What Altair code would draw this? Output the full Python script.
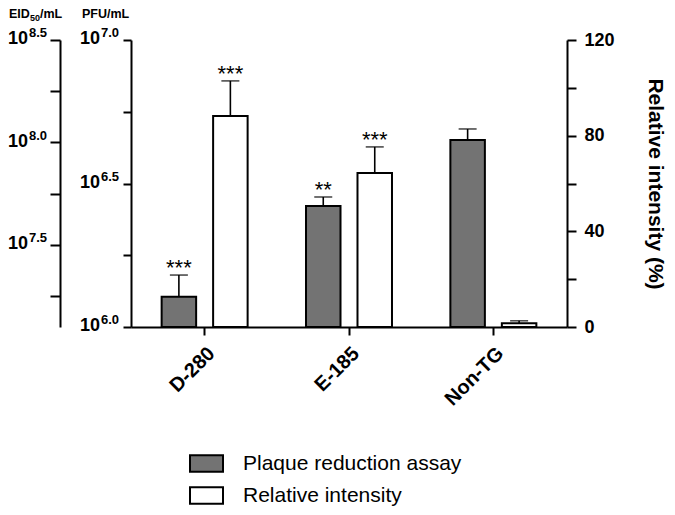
import altair as alt
import pandas as pd

FONT = "Liberation Sans"
GREY = "#737373"

categories = ["D-280", "E-185", "Non-TG"]
series_names = ["Plaque reduction assay", "Relative intensity"]

plaque_log_pfu = [6.105, 6.422, 6.652]
plaque_err_top = [6.181, 6.453, 6.690]
plaque_stars = ["***", "**", ""]

intensity = [88.2, 64.4, 1.6]
intensity_err_top = [102.9, 75.3, 2.6]
intensity_stars = ["***", "***", ""]

pfu_domain = [6.0, 7.0]
pfu_label_values = [6.0, 6.5, 7.0]
pfu_label_exps = ["6.0", "6.5", "7.0"]
pfu_tick_values = [6.0, 6.25, 6.5, 6.75, 7.0]

eid_domain = [7.1, 8.5]
eid_label_values = [7.5, 8.0, 8.5]
eid_label_exps = ["7.5", "8.0", "8.5"]
eid_tick_values = [7.25, 7.5, 7.75, 8.0, 8.25, 8.5]

intensity_domain = [0, 120]
intensity_ticks = [0, 20, 40, 60, 80, 100, 120]


dfA = pd.DataFrame({"cat": categories, "series": series_names[0], "val": plaque_log_pfu,
                    "top": plaque_err_top, "stars": plaque_stars})
dfB = pd.DataFrame({"cat": categories, "series": series_names[1], "val": intensity,
                    "top": intensity_err_top, "stars": intensity_stars})
dfPFU = pd.DataFrame({"v": pfu_label_values, "e": pfu_label_exps, "base": "10"})
dfEID = pd.DataFrame({"v": eid_label_values, "e": eid_label_exps, "base": "10"})

x_axis = alt.Axis(title=None, labelAngle=-45, labelAlign="right", labelBaseline="top",
                  labelFont=FONT, labelFontSize=20, labelFontWeight="bold", labelColor="black",
                  tickSize=8, labelPadding=8, domainWidth=2, tickWidth=2,
                  domainColor="black", tickColor="black")
x_enc = alt.X("cat:N", sort=categories, scale=alt.Scale(paddingInner=0, paddingOuter=0.01), axis=x_axis)
xoff = alt.XOffset("series:N", sort=series_names,
                   scale=alt.Scale(domain=series_names, paddingInner=0.33, paddingOuter=0.567))
legend = alt.Legend(title=None, orient="none", legendX=58, legendY=406,
                    symbolType="M-1,-0.5H1V0.5H-1Z", symbolSize=1089,
                    symbolStrokeColor="black", symbolStrokeWidth=2, symbolOpacity=1,
                    labelFont=FONT, labelFontSize=21, labelColor="black", labelOffset=19,
                    labelLimit=0, rowPadding=2, padding=0)
fill_enc = alt.Fill("series:N", scale=alt.Scale(domain=series_names, range=[GREY, "white"]), legend=legend)


def layer_for(df, scale, axis, base_value):
    def Y(field):
        return alt.Y(field, scale=scale, axis=axis)
    bars = alt.Chart(df).mark_bar(stroke="black", strokeWidth=2).encode(
        x=x_enc, xOffset=xoff, y=Y("val:Q"), y2=alt.datum(base_value), fill=fill_enc)
    rule = alt.Chart(df).mark_rule(color="black", strokeWidth=1.6).encode(
        x=x_enc, xOffset=xoff, y=Y("val:Q"), y2="top:Q")
    cap = alt.Chart(df).mark_tick(color="black", thickness=1.6, size=18).encode(
        x=x_enc, xOffset=xoff, y=Y("top:Q"))
    stars = alt.Chart(df).mark_text(font=FONT, fontSize=22, color="black", baseline="alphabetic",
                                    dy=0).encode(x=x_enc, xOffset=xoff, y=Y("top:Q"), text="stars:N")
    return [bars, rule, cap, stars]


def label_marks(df, scale, axis, x_right):
    base = alt.Chart(df).mark_text(font=FONT, fontSize=18, fontWeight="bold", color="black",
                                   align="right", baseline="alphabetic", dy=4).encode(
        x=alt.value(x_right), y=alt.Y("v:Q", scale=scale, axis=axis), text="base:N")
    exp = alt.Chart(df).mark_text(font=FONT, fontSize=13, fontWeight="bold", color="black",
                                  align="left", baseline="alphabetic", dy=-3).encode(
        x=alt.value(x_right + 1), y=alt.Y("v:Q", scale=scale, axis=axis), text="e:N")
    return [base, exp]


def text_piece(t, x, y, size):
    return alt.Chart(pd.DataFrame({"t": [t]})).mark_text(
        font=FONT, fontSize=size, fontWeight="bold", color="black", align="left",
        baseline="alphabetic").encode(x=alt.value(x), y=alt.value(y), text="t:N")


common_axis = dict(title=None, domainWidth=2, tickWidth=2, domainColor="black", tickColor="black", grid=False)

pfu_scale = alt.Scale(domain=pfu_domain, zero=False, nice=False)
pfu_axis = alt.Axis(orient="left", values=pfu_tick_values, labels=False, tickSize=8, **common_axis)
layerA = alt.layer(*layer_for(dfA, pfu_scale, pfu_axis, pfu_domain[0]),
                   *label_marks(dfPFU, pfu_scale, pfu_axis, -31))

int_scale = alt.Scale(domain=intensity_domain, zero=True, nice=False)
int_axis = alt.Axis(orient="right", values=intensity_ticks,
                    labelExpr="datum.value % 40 == 0 ? datum.label : ''",
                    tickSize=9, labelPadding=8, labelFont=FONT, labelFontSize=18,
                    labelFontWeight="bold", labelColor="black",
                    title="Relative intensity (%)", titleFont=FONT, titleFontSize=21,
                    titleFontWeight="bold", titleColor="black", titlePadding=30,
                    domainWidth=2, tickWidth=2, domainColor="black", tickColor="black", grid=False)
layerB = alt.layer(*layer_for(dfB, int_scale, int_axis, 0))

eid_scale = alt.Scale(domain=eid_domain, zero=False, nice=False)
eid_axis = alt.Axis(orient="left", offset=71, values=eid_tick_values, labels=False, tickSize=10, **common_axis)
layerC = alt.layer(*label_marks(dfEID, eid_scale, eid_axis, -103),
                   text_piece("EID", -122, -22, 12.5),
                   text_piece("50", -101, -19, 9),
                   text_piece("/mL", -91, -22, 12.5),
                   text_piece("PFU/mL", -49, -22, 12.5))

chart = alt.layer(layerA, layerB, layerC).resolve_scale(y="independent").properties(
    width=436, height=287,
    autosize=alt.AutoSizeParams(type="none"),
    padding={"left": 123, "top": 32, "right": 100, "bottom": 180},
).configure(background="white").configure_view(stroke=None)

chart.save("out.html", embed_options={"renderer": "svg", "actions": False})
